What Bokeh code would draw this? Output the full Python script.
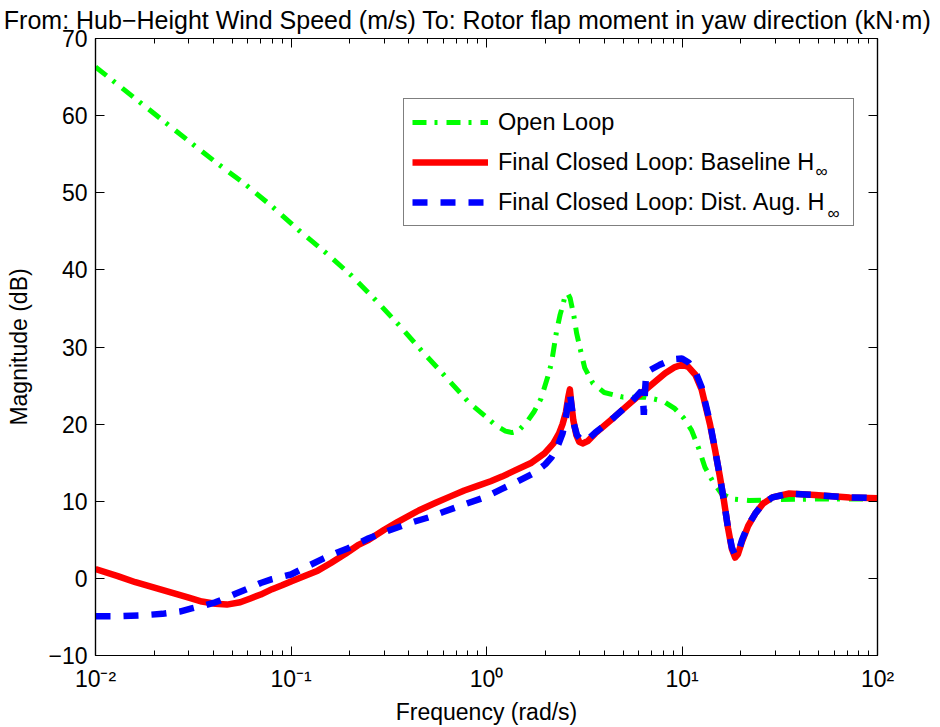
import json
from bokeh.plotting import figure
from bokeh.models import (LogAxis, LinearAxis, FixedTicker, Legend, LegendItem, Label,
                          CustomJSTickFormatter, Range1d)
from bokeh.embed import file_html
from bokeh.resources import INLINE

# ---------------- data ----------------
title_text = "From: Hub\u2212Height Wind Speed (m/s) To: Rotor flap moment in yaw direction (kN\u00b7m)"
x_label = "Frequency (rad/s)"
y_label = "Magnitude (dB)"
legend_labels = ["Open Loop", "Final Closed Loop: Baseline H", "Final Closed Loop: Dist. Aug. H"]
legend_sub = "\u221e"

x_ticks = [0.01, 0.1, 1, 10, 100]
x_tick_labels = {"-2": "10\u207b\u00b2", "-1": "10\u207b\u00b9", "0": "10\u2070", "1": "10\u00b9", "2": "10\u00b2"}
y_ticks = [-10, 0, 10, 20, 30, 40, 50, 60, 70]

# Open loop
f_open = [0.01, 0.0115, 0.016, 0.022, 0.0307, 0.042, 0.059, 0.081, 0.110, 0.151, 0.203, 0.273,
          0.358, 0.474, 0.62, 0.813, 1.0, 1.12, 1.25, 1.35, 1.45, 1.6, 1.75, 1.9, 2.05, 2.15,
          2.28, 2.38, 2.45, 2.52, 2.6, 2.68, 2.8, 2.89, 3.0, 3.18, 3.5, 4.0, 5.0, 6.5, 8.0,
          9.2, 10.2, 11.2, 12.2, 13.1, 14.5, 15.9, 18.0, 22.0, 30.0, 50.0, 100.0]
m_open = [66.3, 65.1, 62.2, 59.4, 56.5, 53.8, 51.0, 48.1, 45.1, 42.2, 39.3, 36.0,
          32.8, 29.3, 26.1, 22.8, 20.9, 19.8, 19.1, 18.9, 19.1, 20.2, 21.6, 23.3, 26.0, 27.9,
          32.0, 34.2, 35.3, 36.6, 37.0, 36.3, 34.0, 31.8, 30.0, 27.3, 25.3, 24.1, 23.5, 23.5, 23.0,
          22.0, 20.8, 19.2, 16.8, 14.4, 12.4, 11.0, 10.3, 10.1, 10.2, 10.3, 10.3]

# Final closed loop: baseline H-infinity
f_base = [0.01, 0.013, 0.016, 0.02, 0.025, 0.03, 0.035, 0.041, 0.047, 0.055, 0.062, 0.07,
          0.08, 0.09, 0.1, 0.12, 0.137, 0.16, 0.19, 0.22, 0.25, 0.3, 0.35, 0.45, 0.55, 0.65,
          0.77, 0.9, 1.05, 1.2, 1.4, 1.7, 1.98, 2.2, 2.35, 2.45, 2.55, 2.62, 2.67, 2.72, 2.78,
          2.88, 2.98, 3.1, 3.3, 3.6, 4.0, 4.5, 5.3, 6.2, 7.2, 8.2, 9.2, 10.0, 10.8, 11.7, 12.6,
          13.9, 14.8, 15.6, 16.4, 17.2, 18.0, 18.7, 19.3, 20.3, 21.8, 23.7, 26.0, 29.0, 35.4,
          48.0, 72.0, 100.0]
m_base = [1.2, 0.3, -0.5, -1.2, -1.9, -2.5, -3.0, -3.3, -3.4, -3.1, -2.6, -2.1,
          -1.4, -0.9, -0.4, 0.4, 1.0, 2.0, 3.2, 4.3, 5.0, 6.3, 7.3, 8.8, 9.8, 10.6,
          11.4, 12.0, 12.6, 13.2, 14.0, 15.0, 16.2, 17.5, 18.8, 20.0, 21.6, 23.5, 24.5, 22.5, 20.5,
          18.6, 17.7, 17.5, 17.8, 18.8, 19.8, 20.9, 22.5, 24.0, 25.4, 26.6, 27.4, 27.7, 27.4, 26.4, 24.5,
          20.0, 16.5, 13.3, 10.0, 6.5, 3.8, 2.7, 3.1, 4.8, 6.8, 8.4, 9.7, 10.5, 11.0,
          10.8, 10.5, 10.4]

# Final closed loop: disturbance-augmented H-infinity
f_dist = [0.01, 0.013, 0.017, 0.022, 0.027, 0.031, 0.036, 0.041, 0.046, 0.052, 0.062, 0.07,
          0.08, 0.1, 0.12, 0.147, 0.17, 0.196, 0.25, 0.3, 0.35, 0.42, 0.505, 0.6, 0.75, 0.977,
          1.2, 1.45, 1.76, 2.0, 2.15, 2.3, 2.45, 2.55, 2.62, 2.67, 2.72, 2.8, 2.9, 3.05, 3.3,
          3.6, 4.0, 4.5, 5.3, 5.8, 6.2, 6.32, 6.38, 6.44, 6.55, 6.85, 7.7, 8.9, 10.0, 10.8,
          11.7, 12.6, 13.9, 14.8, 15.6, 16.4, 17.2, 18.0, 18.7, 19.3, 20.3, 21.8, 23.7, 26.0,
          29.0, 35.4, 48.0, 72.0, 100.0]
m_dist = [-4.9, -4.9, -4.8, -4.6, -4.3, -3.9, -3.5, -3.1, -2.6, -2.0, -1.2, -0.6,
          -0.1, 0.5, 1.5, 2.6, 3.3, 3.9, 5.2, 6.0, 6.6, 7.3, 7.9, 8.6, 9.5, 10.5,
          11.6, 12.6, 13.7, 14.8, 15.7, 17.0, 18.8, 21.0, 23.0, 24.0, 22.5, 20.0, 18.6, 17.9, 18.0,
          18.9, 19.8, 20.9, 22.5, 23.5, 24.3, 23.5, 21.2, 23.5, 26.3, 27.0, 27.7, 28.4, 28.5, 28.0,
          26.8, 24.8, 20.2, 16.5, 13.3, 10.0, 6.5, 4.0, 3.0, 3.2, 5.0, 6.9, 8.4, 9.7,
          10.5, 11.0, 10.8, 10.5, 10.4]

# ---------------- figure ----------------
FONT = "Liberation Sans"
p = figure(x_axis_type="log", x_range=Range1d(0.01, 100), y_range=Range1d(-10, 70),
           frame_width=782, frame_height=617, title=None,
           min_border_left=95, min_border_right=55, min_border_top=38, min_border_bottom=72,
           output_backend="svg", toolbar_location=None,
           x_axis_label=x_label, y_axis_label=y_label)
p.background_fill_color = "white"
p.border_fill_color = "white"
p.xgrid.visible = False
p.ygrid.visible = False
p.outline_line_color = "black"
p.outline_line_width = 1.2

minor = [m * 10.0 ** d for d in range(-2, 2) for m in range(2, 10)]
xticker = FixedTicker(ticks=x_ticks, minor_ticks=minor)
yticker = FixedTicker(ticks=y_ticks)

xfmt = CustomJSTickFormatter(code="const L = %s; return L[String(Math.round(Math.log10(tick)))];"
                             % json.dumps(x_tick_labels))
yfmt = CustomJSTickFormatter(code="return tick < 0 ? '\u2212' + Math.abs(tick) : String(tick);")

def style_axis(ax, labels=True):
    ax.axis_line_color = "black"
    ax.axis_line_width = 1.2
    ax.major_tick_in = 9
    ax.major_tick_out = 0
    ax.minor_tick_in = 5
    ax.minor_tick_out = 0
    ax.major_tick_line_color = "black"
    ax.minor_tick_line_color = "black"
    ax.major_label_text_font = FONT
    ax.axis_label_text_font = FONT
    ax.axis_label_text_font_style = "normal"
    ax.axis_label_text_font_size = "23px"
    ax.axis_label_text_color = "black"
    if labels:
        ax.major_label_text_font_size = "23px"
        ax.major_label_text_color = "black"
    else:
        ax.major_label_text_font_size = "1px"
        ax.major_label_text_color = None
        ax.major_label_standoff = 0

xa = p.xaxis[0]
xa.ticker = xticker
xa.formatter = xfmt
style_axis(xa)
xa.major_label_standoff = 10
xa.axis_label_standoff = 4

ya = p.yaxis[0]
ya.ticker = yticker
ya.formatter = yfmt
style_axis(ya)
ya.minor_tick_line_color = None
ya.major_label_standoff = 8
ya.axis_label_standoff = 13

top = LogAxis(ticker=FixedTicker(ticks=x_ticks, minor_ticks=minor))
style_axis(top, labels=False)
p.add_layout(top, "above")
right = LinearAxis(ticker=FixedTicker(ticks=y_ticks))
style_axis(right, labels=False)
right.minor_tick_line_color = None
p.add_layout(right, "right")

# title drawn as a text annotation in the panel above the frame
p.add_layout(Label(x=0.7995, y=72.4, text=title_text, text_font=FONT, text_font_size="25px",
                   text_align="center", text_baseline="alphabetic", text_color="black"), "above")

g = p.line(f_open, m_open, line_color="#00ff00", line_width=5, line_dash="14 8 3 9")
r = p.line(f_base, m_base, line_color="#ff0000", line_width=6.5, line_join="round")
b = p.line(f_dist, m_dist, line_color="#0000ff", line_width=6.5, line_dash="15 13")

# subscript infinity signs for the legend (drawn beneath a transparent legend)
for lx, ly in [(48.2, 52.76), (55.5, 47.3)]:
    p.add_layout(Label(x=lx, y=ly, text=legend_sub, text_font=FONT, text_font_size="17px",
                       text_baseline="alphabetic", text_color="black"))

legend = Legend(items=[LegendItem(label=legend_labels[0], renderers=[g]),
                       LegendItem(label=legend_labels[1], renderers=[r]),
                       LegendItem(label=legend_labels[2], renderers=[b])],
                location=(308, 429), margin=0, padding=8, spacing=10,
                glyph_width=76, glyph_height=30, label_height=30, label_width=347,
                label_standoff=10, label_text_font=FONT, label_text_font_size="23.5px",
                label_text_color="black",
                border_line_color="black", border_line_width=1.5,
                background_fill_color="white", background_fill_alpha=0.0)
p.add_layout(legend)

open("out.html", "w").write(file_html(p, INLINE))
